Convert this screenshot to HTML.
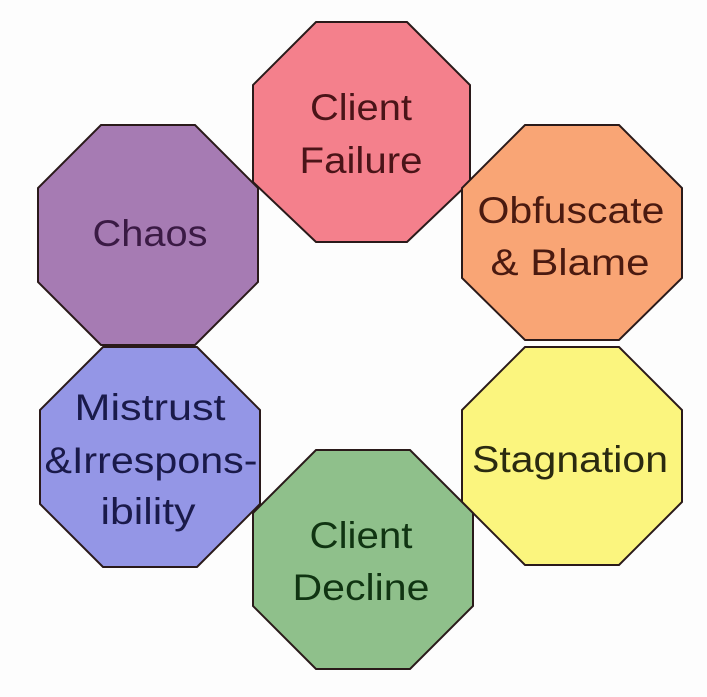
<!DOCTYPE html>
<html><head><style>html,body{margin:0;padding:0;background:#fff;}svg{display:block}</style></head>
<body>
<svg width="707" height="697" viewBox="0 0 707 697" xmlns="http://www.w3.org/2000/svg" font-family="Liberation Sans, Arial, sans-serif" text-anchor="middle">
<rect width="707" height="697" fill="#fdfdfd"/>
<g stroke="#2a1a1a" stroke-width="2">
<polygon fill="#f4808c" points="316,22 407,22 470,85 470,182 407,242 316,242 253,182 253,85"/>
<polygon fill="#a67bb3" points="101,125 195,125 258,188 258,282 195,345 101,345 38,282 38,188"/>
<polygon fill="#f9a575" points="525,125 619,125 682,188 682,278 619,340 525,340 462,278 462,188"/>
<polygon fill="#9496e6" points="103,347 197,347 260,410 260,504 197,567 103,567 40,504 40,410"/>
<polygon fill="#fbf57e" points="525,347 619,347 682,410 682,502 619,565 525,565 462,502 462,410"/>
<polygon fill="#8fc08b" points="316,450 410,450 473,513 473,606 410,669 316,669 253,606 253,513"/>
</g>
<g font-size="37" lengthAdjust="spacingAndGlyphs">
<text x="361" y="120" fill="#4a1418" textLength="102" lengthAdjust="spacingAndGlyphs">Client</text>
<text x="361" y="173" fill="#4a1418" textLength="123" lengthAdjust="spacingAndGlyphs">Failure</text>
<text x="150" y="246" fill="#3a1a44" textLength="115" lengthAdjust="spacingAndGlyphs">Chaos</text>
<text x="571" y="223" fill="#4a1a10" textLength="187" lengthAdjust="spacingAndGlyphs">Obfuscate</text>
<text x="570" y="275" fill="#4a1a10" textLength="159" lengthAdjust="spacingAndGlyphs">&amp; Blame</text>
<text x="150" y="420" fill="#1a1a4a" textLength="151" lengthAdjust="spacingAndGlyphs">Mistrust</text>
<text x="151" y="473" fill="#1a1a4a" textLength="213" lengthAdjust="spacingAndGlyphs">&amp;Irrespons-</text>
<text x="148" y="524" fill="#1a1a4a" textLength="95" lengthAdjust="spacingAndGlyphs">ibility</text>
<text x="570" y="472" fill="#2a2a10" textLength="196" lengthAdjust="spacingAndGlyphs">Stagnation</text>
<text x="361" y="548" fill="#103412" textLength="103" lengthAdjust="spacingAndGlyphs">Client</text>
<text x="361" y="600" fill="#103412" textLength="137" lengthAdjust="spacingAndGlyphs">Decline</text>
</g>
</svg>
</body></html>
